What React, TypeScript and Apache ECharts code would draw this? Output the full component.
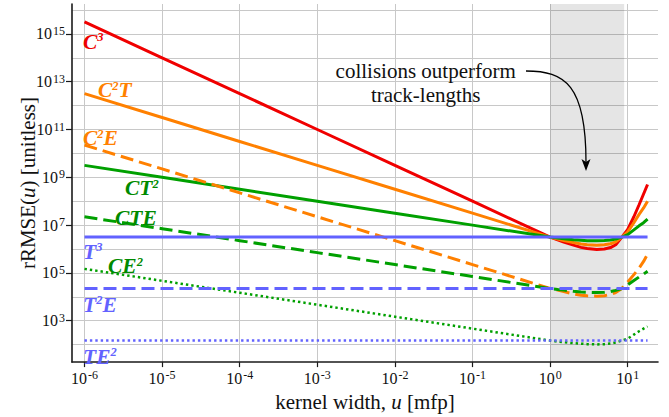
import React, { useEffect, useRef } from "react";
import * as echarts from "echarts";

// kernel width u [mfp]
const U = [1e-6, 1e-5, 1e-4, 1e-3, 1e-2, 1e-1, 1, 1.25, 1.5, 2, 2.5, 3, 4, 5, 6, 7, 8.4, 10, 12, 14, 16, 18];
const U_FLAT = [1e-6, 18];

// rRMSE values
const C3 = [3.16e15, 1e14, 3.16e12, 1e11, 3.16e9, 1e8, 3.16e6, 2.4e6, 1.95e6, 1.45e6, 1.17e6, 1.05e6, 9.5e5, 1.0e6, 1.15e6, 1.51e6, 3.16e6, 6.6e6, 2.24e7, 7.1e7, 2.0e8, 5.0e8];
const C2T = [3.16e12, 3.16e11, 3.16e10, 3.16e9, 3.16e8, 3.16e7, 3.16e6, 2.63e6, 2.29e6, 1.86e6, 1.62e6, 1.51e6, 1.45e6, 1.51e6, 1.66e6, 2.0e6, 3.16e6, 5.25e6, 1.26e7, 2.82e7, 5.25e7, 1.0e8];
const CT2 = [3.16e9, 1e9, 3.16e8, 1e8, 3.16e7, 1e7, 3.16e6, 2.88e6, 2.69e6, 2.45e6, 2.34e6, 2.24e6, 2.24e6, 2.29e6, 2.4e6, 2.63e6, 3.16e6, 3.98e6, 6.31e6, 9.33e6, 1.26e7, 1.78e7];
const C2E = [2.24e10, 2.24e9, 2.24e8, 2.24e7, 2.24e6, 2.24e5, 2.24e4, 1.91e4, 1.66e4, 1.32e4, 1.17e4, 1.1e4, 1.07e4, 1.12e4, 1.26e4, 1.51e4, 2.24e4, 4.17e4, 8.51e4, 1.58e5, 3.02e5, 6.03e5];
const CTE = [2.24e7, 7.08e6, 2.24e6, 7.08e5, 2.24e5, 7.08e4, 2.24e4, 2.04e4, 1.91e4, 1.7e4, 1.58e4, 1.55e4, 1.51e4, 1.55e4, 1.66e4, 1.86e4, 2.24e4, 3.16e4, 4.79e4, 6.76e4, 8.91e4, 1.17e5];
const CE2 = [1.48e5, 4.68e4, 1.48e4, 4.68e3, 1.48e3, 468, 148, 135, 126, 115, 110, 105, 102, 105, 112, 123, 148, 178, 263, 363, 468, 575];
const T3 = [3.16e6, 3.16e6];
const T2E = [2.24e4, 2.24e4];
const TE2 = [148, 148];

// shaded region (collisions outperform track-lengths)
const SHADE = [1, 9];

// tick exponents
const X_TICKS = [-6, -5, -4, -3, -2, -1, 0, 1];
const Y_TICKS = [3, 5, 7, 9, 11, 13, 15];

const RED = "#f00000";
const ORANGE = "#ff8000";
const GREEN = "#00a000";
const GREEN_TXT = "#008a00";
const BLUE = "#6262ff";
const FONT = "Liberation Serif";

const toLog = (xs: number[], ys: number[]) => xs.map((x, i) => [Math.log10(x), Math.log10(ys[i])]);

const expLabel = (v: number) => {
  const e = Math.round(v);
  if (Math.abs(v - e) > 1e-6) return "";
  return `{b|10}{s|${e}}`;
};

const labelRich = {
  b: { fontSize: 16, lineHeight: 18, fontFamily: FONT, color: "#111" },
  s: { fontSize: 12, lineHeight: 9, verticalAlign: "top", fontFamily: FONT, color: "#111", padding: [0, 0, 0, 1] },
};

const seriesLabel = (text: string, x: number, y: number, fill: string) => ({
  type: "text",
  x,
  y,
  z: 100,
  style: {
    text,
    fill,
    align: "left",
    verticalAlign: "middle",
    fontFamily: FONT,
    rich: {
      m: { fontSize: 21.5, lineHeight: 22, fontFamily: FONT, fontWeight: "bold", fontStyle: "italic", fill },
      s: { fontSize: 12.5, lineHeight: 9, verticalAlign: "top", fontFamily: FONT, fontWeight: "bold", fontStyle: "italic", fill },
    },
  },
});

export default function App() {
  const ref = useRef<HTMLDivElement>(null);
  useEffect(() => {
    if (!ref.current) return;
    const chart = echarts.init(ref.current, undefined, { renderer: "svg" });
    const line = (name: string, data: number[][], color: string, type: any, width = 3, z = 2) => ({
      name,
      type: "line",
      data,
      symbol: "none",
      showSymbol: false,
      silent: true,
      z,
      lineStyle: { color, width, type, cap: "butt" },
    });
    chart.setOption({
      animation: false,
      textStyle: { fontFamily: FONT },
      grid: { left: 72, right: 11, top: 4, bottom: 51.3, containLabel: false },
      xAxis: {
        type: "value",
        min: -6.161,
        max: 1.39,
        splitNumber: 8,
        name: "kernel width, {i|u} [mfp]",
        nameLocation: "middle",
        nameGap: 22,
        nameTextStyle: {
          fontFamily: FONT,
          fontSize: 21,
          color: "#111",
          verticalAlign: "top",
          rich: { i: { fontFamily: FONT, fontSize: 21, fontStyle: "italic", color: "#111" } },
        },
        axisLine: { show: true, onZero: false, lineStyle: { color: "#1a1a1a", width: 1.6 } },
        axisTick: { show: true, length: 5, customValues: X_TICKS, lineStyle: { color: "#1a1a1a", width: 1.2 } },
        axisLabel: { margin: 7, fontFamily: FONT, fontSize: 16, customValues: X_TICKS, formatter: expLabel, rich: labelRich },
        splitLine: { show: true, showMinLine: true, showMaxLine: true, lineStyle: { color: "#c8c8c8", width: 1 } },
      },
      yAxis: [
        {
          type: "value",
          position: "left",
          min: 1.27,
          max: 16.25,
          splitNumber: 15,
          name: "rRMSE({i|u}) [unitless]",
          nameLocation: "middle",
          nameGap: 34,
          nameTextStyle: {
            fontFamily: FONT,
            fontSize: 21,
            color: "#111",
            rich: { i: { fontFamily: FONT, fontSize: 21, fontStyle: "italic", color: "#111" } },
          },
          axisLine: { show: true, onZero: false, lineStyle: { color: "#1a1a1a", width: 1.6 } },
          axisTick: { show: false },
          axisLabel: { show: false },
          splitLine: { show: true, showMinLine: false, showMaxLine: false, lineStyle: { color: "#c8c8c8", width: 1 } },
        },
        {
          type: "value",
          position: "left",
          offset: 0,
          min: 1.27,
          max: 16.25,
          splitNumber: 15,
          axisLine: { show: false, onZero: false },
          axisTick: { show: true, length: 6, customValues: Y_TICKS, lineStyle: { color: "#1a1a1a", width: 1.2 } },
          axisLabel: { margin: 7, fontFamily: FONT, fontSize: 16, customValues: Y_TICKS, formatter: expLabel, rich: labelRich },
          splitLine: { show: false },
        },
      ],
      series: [
        {
          type: "line",
          data: [],
          z: 1,
          silent: true,
          markArea: {
            silent: true,
            itemStyle: { color: "rgba(0,0,0,0.1)" },
            data: [[{ xAxis: Math.log10(SHADE[0]) }, { xAxis: Math.log10(SHADE[1]) }]],
          },
        },
        line("C3", toLog(U, C3), RED, "solid"),
        line("C2T", toLog(U, C2T), ORANGE, "solid"),
        line("CT2", toLog(U, CT2), GREEN, "solid"),
        line("C2E", toLog(U, C2E), ORANGE, [13, 6]),
        line("CTE", toLog(U, CTE), GREEN, [13, 6]),
        line("CE2", toLog(U, CE2), GREEN, [2.4, 3], 2.5),
        line("T3", toLog(U_FLAT, T3), BLUE, "solid", 3, 3),
        line("T2E", toLog(U_FLAT, T2E), BLUE, [13, 6], 3, 3),
        line("TE2", toLog(U_FLAT, TE2), BLUE, [2.4, 3], 2.5, 3),
      ],
      graphic: [
        seriesLabel("{m|C}{s|3}", 83, 41.7, RED),
        seriesLabel("{m|C}{s|2}{m|T}", 98, 90, ORANGE),
        seriesLabel("{m|C}{s|2}{m|E}", 83, 138.3, ORANGE),
        seriesLabel("{m|CT}{s|2}", 125, 188.3, GREEN_TXT),
        seriesLabel("{m|CTE}", 115, 217.5, GREEN_TXT),
        seriesLabel("{m|T}{s|3}", 83, 251.5, BLUE),
        seriesLabel("{m|CE}{s|2}", 108, 266, GREEN_TXT),
        seriesLabel("{m|T}{s|2}{m|E}", 83, 304.5, BLUE),
        seriesLabel("{m|TE}{s|2}", 83, 356.5, BLUE),
        {
          type: "text",
          x: 425.7,
          y: 70.6,
          z: 100,
          style: { text: "collisions outperform", fill: "#111", align: "center", verticalAlign: "middle", fontFamily: FONT, fontSize: 21 },
        },
        {
          type: "text",
          x: 425.7,
          y: 94.6,
          z: 100,
          style: { text: "track-lengths", fill: "#111", align: "center", verticalAlign: "middle", fontFamily: FONT, fontSize: 21 },
        },
        {
          type: "bezierCurve",
          z: 100,
          shape: { x1: 526, y1: 71, cpx1: 565, cpy1: 71, cpx2: 586, cpy2: 85, x2: 586, y2: 162 },
          style: { stroke: "#000", lineWidth: 1.3, fill: "none" },
        },
        {
          type: "polygon",
          z: 100,
          shape: { points: [[586, 171], [581.5, 159], [586, 162], [590.5, 159]] },
          style: { fill: "#000" },
        },
      ],
    });
    return () => chart.dispose();
  }, []);
  return <div ref={ref} style={{ position: "absolute", left: 0, top: 0, width: 669, height: 417 }} />;
}
